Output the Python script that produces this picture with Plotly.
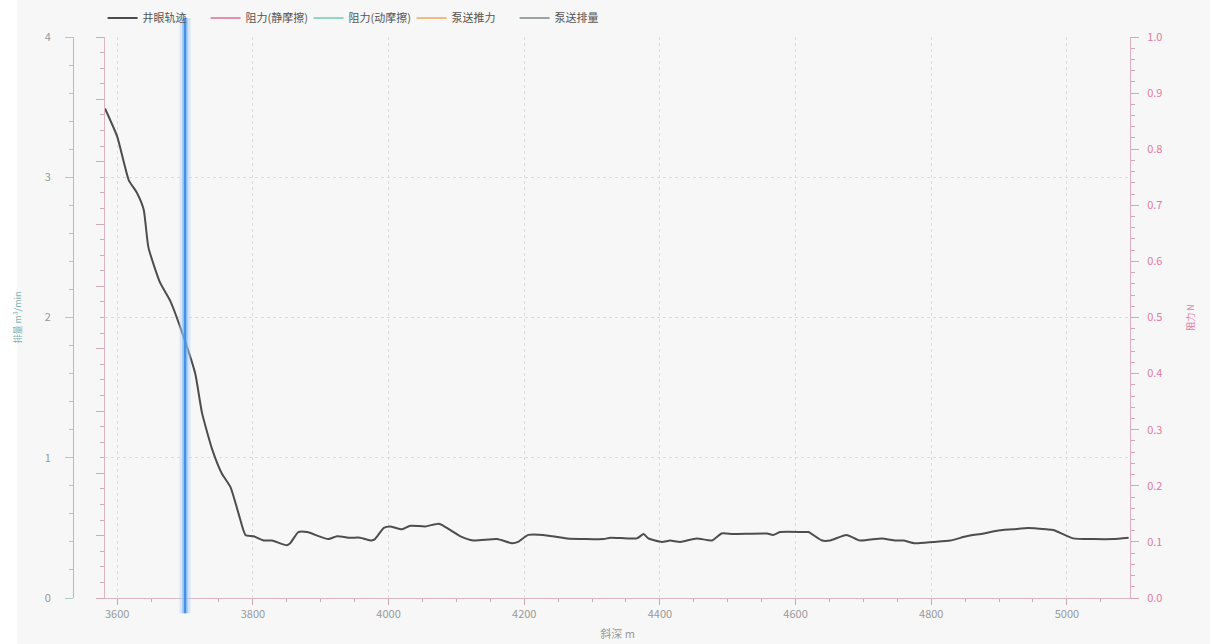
import plotly.graph_objects as go

# ---- data ----
depth = [3582, 3600, 3617, 3629, 3639, 3646, 3663, 3678, 3698, 3715, 3725, 3740,
         3754, 3767, 3779, 3789, 3801, 3816, 3828, 3850, 3855, 3867, 3880, 3911,
         3924, 3943, 3958, 3975, 3980, 3993, 4002, 4020, 4032, 4054, 4074, 4081,
         4106, 4125, 4160, 4182, 4191, 4206, 4228, 4263, 4317, 4327, 4366, 4376,
         4383, 4403, 4415, 4430, 4454, 4477, 4491, 4508, 4558, 4567, 4577, 4612,
         4619, 4639, 4651, 4675, 4695, 4727, 4747, 4759, 4776, 4803, 4828, 4852,
         4877, 4897, 4921, 4943, 4970, 4980, 5009, 5039, 5068, 5091]
trajectory = [3.49, 3.29, 2.98, 2.89, 2.77, 2.50, 2.25, 2.12, 1.86, 1.60, 1.32, 1.06,
              0.89, 0.79, 0.60, 0.45, 0.44, 0.41, 0.41, 0.376, 0.39, 0.47, 0.47, 0.42,
              0.44, 0.43, 0.43, 0.41, 0.42, 0.50, 0.51, 0.49, 0.515, 0.51, 0.53, 0.515,
              0.44, 0.41, 0.42, 0.39, 0.40, 0.45, 0.45, 0.425, 0.42, 0.43, 0.425, 0.456,
              0.425, 0.40, 0.41, 0.40, 0.425, 0.41, 0.46, 0.456, 0.46, 0.45, 0.47, 0.47,
              0.47, 0.41, 0.41, 0.45, 0.41, 0.425, 0.41, 0.41, 0.39, 0.40, 0.41, 0.44,
              0.46, 0.48, 0.49, 0.50, 0.49, 0.485, 0.425, 0.42, 0.42, 0.43]
cursor_depth = 3700

series_names = ["井眼轨迹", "阻力(静摩擦)", "阻力(动摩擦)", "泵送推力", "泵送排量"]
series_colors = ["#4d4d4d", "#e58fb0", "#8fd9c2", "#f5ba80", "#9aa3a3"]

FONT = "Noto Sans CJK SC, Noto Sans, sans-serif"
BG = "#f7f7f7"

fig = go.Figure()
fig.add_trace(go.Scatter(x=depth, y=trajectory, mode="lines", name=series_names[0],
                         yaxis="y", line=dict(color=series_colors[0], width=2,
                                              shape="spline", smoothing=0.5)))
for n, c in zip(series_names[1:], series_colors[1:]):
    fig.add_trace(go.Scatter(x=[None], y=[None], mode="lines", name=n, yaxis="y3",
                             line=dict(color=c, width=2)))
# placeholder on the inner (unlabelled) axis so it is drawn
fig.add_trace(go.Scatter(x=[None], y=[None], mode="lines", yaxis="y2", showlegend=False,
                         hoverinfo="skip"))

# cursor line with glow
for w, col in [(11, "rgba(170,210,250,0.45)"), (6, "rgba(125,185,245,0.5)"), (2.5, "#4a90e2")]:
    fig.add_shape(type="line", xref="x", yref="paper", x0=cursor_depth, x1=cursor_depth,
                  y0=-0.027, y1=1.034, line=dict(color=col, width=w), layer="above")

# white strip at the far left
fig.add_shape(type="rect", xref="paper", yref="paper", x0=-0.1, x1=-0.053, y0=-0.2, y1=1.2,
              fillcolor="white", line=dict(width=0), layer="below")

fig.update_layout(
    width=1210, height=644,
    margin=dict(l=73, r=80, t=37, b=46, autoexpand=False),
    paper_bgcolor=BG, plot_bgcolor=BG,
    font=dict(family=FONT, size=11, color="#999"),
    showlegend=True,
    legend=dict(orientation="h", x=0.028, y=1 - 18 / 644, xref="paper", yref="container",
                xanchor="left", yanchor="middle",
                bgcolor="rgba(0,0,0,0)", font=dict(size=11, color="#555"),
                entrywidth=58, entrywidthmode="pixels", itemwidth=30),
    xaxis=dict(domain=[32 / 1057, 1], range=[3582, 5093], tick0=3600, dtick=200,
               anchor="y2", automargin=False,
               ticks="outside", ticklen=6, tickcolor="#c9a9b5", showline=True,
               linecolor="#d9b7c3", linewidth=1, showgrid=True, gridcolor="#dcdcdc",
               griddash="dot", zeroline=False, tickfont=dict(color="#999", size=11),
               minor=dict(dtick=50, tick0=3600, ticks="outside", ticklen=3, tickcolor="#c9a9b5",
                          showgrid=False),
               title=dict(text="斜深 m", font=dict(size=11, color="#999"), standoff=10)),
    yaxis=dict(range=[0, 4], dtick=1, anchor="free", position=0, side="left",
               automargin=False,
               ticks="outside", ticklen=8, tickcolor="#a9ccc6", showline=True,
               linecolor="#9ccac2", linewidth=1, showgrid=True, gridcolor="#dcdcdc",
               griddash="dot", zeroline=False, tickfont=dict(color="#999", size=11),
               ticklabelstandoff=12,
               minor=dict(dtick=0.2, ticks="outside", ticklen=4, tickcolor="#a9ccc6"),
               title=dict(text="排量 m³/min", font=dict(size=9, color="#7fb3b0"), standoff=20)),
    yaxis2=dict(range=[0, 9], dtick=1, overlaying="y", anchor="x", side="left",
                automargin=False,
                ticks="outside", ticklen=8, tickcolor="#cfaab8",
                showticklabels=False, showline=True, linecolor="#d9b7c3", linewidth=1,
                showgrid=False, zeroline=False,
                minor=dict(dtick=0.25, ticks="outside", ticklen=4, tickcolor="#cfaab8")),
    yaxis3=dict(range=[0, 1], dtick=0.1, tickformat=".1f", overlaying="y", side="right",
                anchor="x", automargin=False,
                ticks="outside", ticklen=8, tickcolor="#d9a3b8", showline=True,
                linecolor="#e0b0c2", linewidth=1, showgrid=False, zeroline=False,
                tickfont=dict(color="#e07ca2", size=11), ticklabelstandoff=6,
                minor=dict(dtick=0.02, ticks="outside", ticklen=4, tickcolor="#d9a3b8"),
                title=dict(text="阻力 N", font=dict(size=9, color="#e07ca2"), standoff=26)),
)

fig.write_html("out.html")
